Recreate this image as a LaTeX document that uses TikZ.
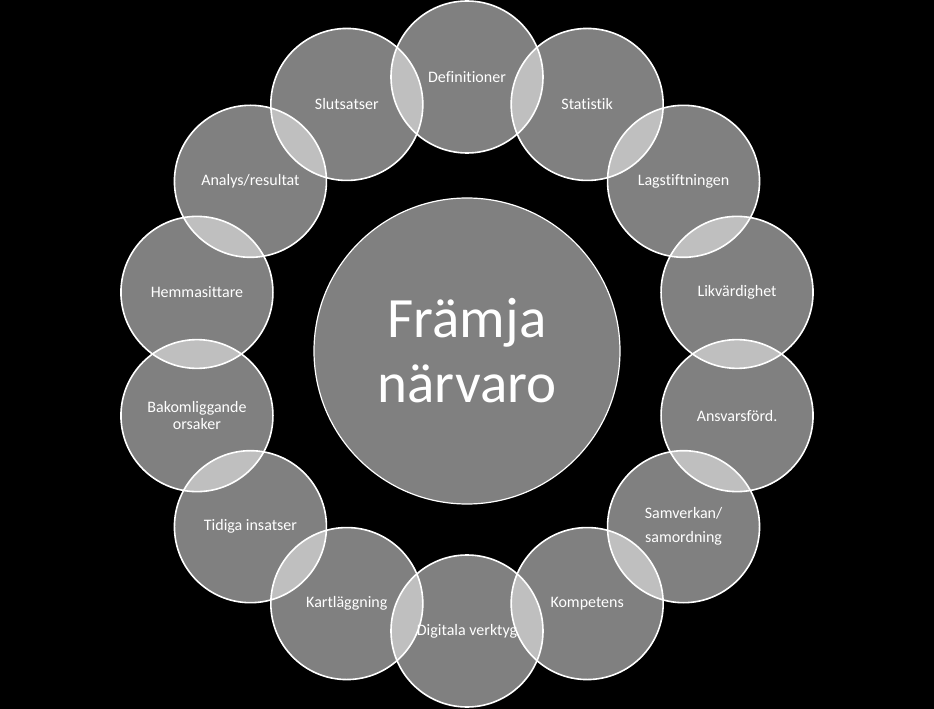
\documentclass[tikz,border=0pt]{standalone}
\usepackage{fontspec}
\setmainfont{Carlito}[Ligatures=NoCommon]
\begin{document}
\begin{tikzpicture}[x=1pt, y=1pt,
  ring/.style={circle, draw=white, line width=1.6pt, fill=white, fill opacity=0.5,
    text opacity=1, text=white, minimum size=152pt, inner sep=0pt, align=center,
    font=\fontsize{16}{17}\selectfont},
  hub/.style={circle, draw=white, line width=1.2pt, fill=white, fill opacity=0.5,
    text opacity=1, text=white, minimum size=306pt, inner sep=0pt, align=center,
    font=\fontsize{57}{65}\selectfont}]
% black background, fixes the size
\fill[black] (-467,-355) rectangle (467,354);

% the centre circle
\node[hub] (hub) at (0,3) {Främja\\närvaro};

% the ring, clockwise from the top
\foreach \name/\txt [count=\i from 0] in {
  def/Definitioner,
  stat/Statistik,
  lag/Lagstiftningen,
  lik/Likvärdighet,
  ansv/Ansvarsförd.,
  samv/{Samverkan/\\[7pt]samordning},
  komp/Kompetens,
  dig/Digitala verktyg,
  kart/Kartläggning,
  tid/Tidiga insatser,
  bak/{Bakomliggande\\orsaker},
  hem/Hemmasittare,
  ana/{Analys/resultat},
  slut/Slutsatser}
  \node[ring] (\name) at ({90-\i*360/14}:277) {\txt};
\end{tikzpicture}
\end{document}
